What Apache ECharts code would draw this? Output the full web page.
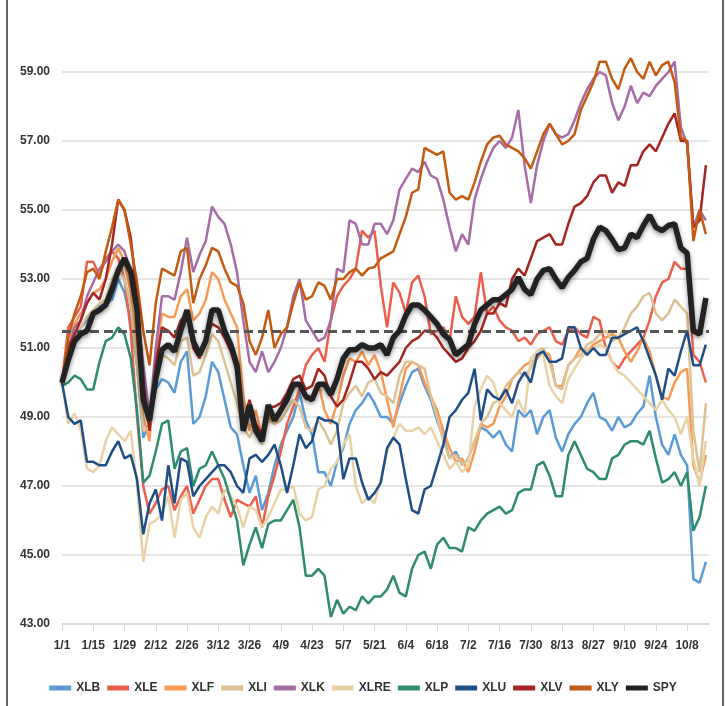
<!DOCTYPE html>
<html lang="en">
<head>
    <meta charset="UTF-8">
    <title>Sector ETFs vs SPY</title>
    <script src="https://cdn.jsdelivr.net/npm/echarts@6/dist/echarts.min.js"></script>
    <style>
        html, body { margin: 0; padding: 0; background: #fff; }
    </style>
</head>
<body>
<div id="main" style="width: 726px;height:706px;"></div>
<script type="text/javascript">
    // categories: every weekday from 1/1 (2018), labels shown every 10th
    var categories = [];
    var d = new Date(2018, 0, 1);
    while (categories.length < 208) {
        if (d.getDay() != 0 && d.getDay() != 6) categories.push((d.getMonth() + 1) + '/' + d.getDate());
        d.setDate(d.getDate() + 1);
    }
    var yTicks = [43, 45, 47, 49, 51, 53, 55, 57, 59];
    var refLevel = 51.5;   // dashed line

    // values read every 2nd trading day (index 0,2,4,...,206)
    var xlb = [50.0, 50.8, 51.2, 51.6, 51.8, 52.0, 52.2, 52.3, 52.4, 53.0,
        52.6, 51.8, 50.5, 48.4, 48.8, 49.8, 50.1, 50.0, 49.7, 50.6,
        50.9, 48.8, 49.0, 49.6, 50.6, 50.3, 49.5, 48.7, 48.5, 47.6,
        46.8, 47.3, 46.3, 46.8, 47.6, 48.2, 48.6, 49.0, 49.7, 48.9,
        48.5, 47.4, 47.4, 47.0, 47.7, 48.1, 48.8, 49.2, 49.4, 49.7,
        49.4, 49.0, 49.0, 48.8, 49.4, 49.9, 50.3, 50.4, 49.9, 49.5,
        48.9, 48.4, 47.8, 48.0, 47.6, 47.8, 48.3, 48.7, 48.6, 48.4,
        48.6, 48.2, 48.0, 49.2, 49.0, 49.2, 48.5, 49.0, 49.2, 48.4,
        48.0, 48.5, 48.8, 49.0, 49.4, 49.7, 49.0, 48.9, 48.6, 49.0,
        48.7, 48.8, 49.1, 49.3, 50.2, 49.0, 48.2, 47.9, 48.5, 47.9,
        47.6, 44.3, 44.2, 44.8];
    var xle = [50.0, 51.6, 51.9, 52.2, 53.5, 53.5, 53.1, 53.6, 53.8, 53.6,
        53.0, 51.5, 49.0, 47.0, 46.2, 46.5, 46.9, 47.0, 46.3, 46.7,
        47.0, 46.2, 46.6, 47.0, 47.2, 47.2, 46.6, 46.1, 46.6, 46.5,
        46.4, 46.7, 45.8, 46.7, 47.3, 48.0, 48.8, 49.3, 49.8, 50.5,
        50.8, 51.0, 50.6, 51.8, 52.5, 52.8, 53.0, 53.3, 54.4, 54.2,
        54.4, 52.8, 51.6, 52.9, 52.6, 52.0, 52.9, 53.1, 52.5, 51.4,
        51.5, 51.6, 51.2, 52.5, 51.9, 51.7, 51.9, 53.2, 52.0, 52.2,
        51.8, 51.6, 51.5, 51.2, 51.3, 51.1, 51.4, 51.5, 51.6, 51.2,
        51.1, 51.5, 51.6, 51.4, 51.3, 51.9, 51.8, 51.0, 50.6, 50.4,
        50.7, 50.9, 51.1, 51.3, 51.8, 52.5, 52.9, 53.0, 53.5, 53.3,
        53.3, 50.8, 50.6, 50.0];
    var xlf = [50.0, 51.3, 51.7, 52.0, 52.3, 52.6, 52.7, 53.0, 53.5, 53.9,
        53.5, 52.6, 51.0, 49.0, 48.3, 50.8, 52.0, 51.9, 51.9, 52.5,
        52.7, 51.8, 52.0, 52.4, 53.2, 53.0, 52.4, 52.0, 51.6, 49.6,
        48.6, 49.2, 48.4, 49.0, 48.8, 49.1, 49.6, 49.8, 50.0, 49.5,
        49.6, 50.0, 49.2, 48.8, 49.4, 50.2, 50.7, 50.6, 50.9, 50.5,
        50.8, 50.3, 49.5, 48.7, 49.6, 50.4, 50.6, 50.5, 50.0, 49.6,
        49.2, 48.6, 48.1, 47.7, 47.8, 47.4, 48.0, 48.8, 48.7, 48.8,
        49.3, 49.6, 50.1, 50.3, 50.5, 50.6, 50.7, 50.9, 50.8, 49.9,
        49.9, 50.5, 50.7, 51.0, 50.9, 51.1, 51.2, 51.3, 51.4, 51.3,
        50.9, 50.6, 50.9, 51.3, 50.9, 50.2, 49.6, 49.5, 50.0, 50.3,
        50.4, 47.6, 47.1, 47.9];
    var xli = [50.0, 50.8, 51.3, 51.6, 51.9, 52.1, 52.3, 52.4, 53.0, 53.3,
        53.0, 52.2, 50.5, 48.6, 48.7, 50.0, 50.8, 50.7, 50.5, 51.2,
        51.3, 50.2, 50.3, 50.8, 51.4, 51.2, 50.6, 50.0, 49.4, 48.7,
        48.4, 48.8, 48.2, 48.9, 48.8, 48.9, 49.2, 49.5, 49.3, 48.7,
        48.6, 48.9, 48.6, 48.2, 48.6, 49.4, 49.7, 49.9, 49.6, 50.0,
        50.1, 49.7, 49.6, 49.4, 50.2, 50.6, 50.6, 50.5, 50.4, 49.6,
        49.0, 48.3, 47.8, 47.9, 47.6, 47.8, 48.3, 48.8, 49.0, 49.4,
        49.5, 49.9, 50.1, 50.3, 50.2, 50.4, 50.9, 51.0, 50.6, 49.9,
        49.8, 50.5, 50.7, 50.8, 51.1, 51.2, 51.4, 51.5, 51.2, 51.3,
        51.6, 52.0, 52.2, 52.5, 52.6, 52.0, 51.8, 52.0, 52.4, 52.2,
        52.0, 48.6, 47.4, 49.4];
    var xlk = [50.0, 51.0, 51.6, 51.8, 52.5, 52.9, 53.3, 53.5, 53.8, 54.0,
        53.8, 53.2, 52.3, 50.5, 49.0, 51.0, 52.5, 52.5, 52.4, 53.2,
        54.2, 53.2, 53.7, 54.1, 55.1, 54.8, 54.6, 54.0, 53.2, 51.8,
        50.6, 50.3, 50.9, 50.3, 50.6, 51.0, 51.6, 52.5, 53.0, 51.8,
        51.5, 51.2, 51.3, 51.8, 53.3, 53.2, 54.7, 54.6, 54.0, 54.0,
        54.6, 54.6, 54.3, 54.7, 55.6, 55.9, 56.2, 56.1, 56.4, 56.0,
        55.9, 55.3, 54.5, 53.8, 54.3, 54.0, 55.3, 55.9, 56.4, 56.8,
        57.0, 56.8, 57.1, 57.9, 56.3, 55.2, 56.3, 57.0, 57.5, 57.2,
        57.1, 57.2, 57.6, 58.1, 58.5, 58.8, 59.0, 58.9, 58.1, 57.6,
        58.0, 58.6, 58.1, 58.4, 58.3, 58.6, 58.8, 59.0, 59.3, 57.4,
        56.9, 54.5, 55.0, 54.7];
    var xlre = [50.0, 48.8, 49.1, 48.6, 47.5, 47.4, 47.6, 48.3, 48.7, 48.5,
        48.3, 48.6, 47.0, 44.8, 45.9, 46.0, 46.2, 46.7, 45.5, 46.6,
        46.8, 45.8, 45.5, 46.1, 46.4, 46.2, 46.9, 46.7, 46.4, 45.8,
        46.4, 46.3, 45.8, 46.1, 46.5, 46.9, 46.9, 47.0, 46.2, 46.0,
        46.1, 46.9, 47.0, 47.5, 47.7, 48.2, 48.5, 47.0, 46.5, 46.7,
        46.5, 47.2, 48.0, 48.4, 48.8, 48.6, 48.6, 48.7, 48.5, 48.7,
        48.3, 47.9, 47.5, 47.7, 47.4, 47.6, 49.3, 49.8, 50.2, 50.0,
        49.4, 49.2, 49.0, 49.5, 49.1, 50.7, 50.9, 50.8, 49.9, 49.6,
        49.4, 50.1, 50.4, 50.7, 50.9, 51.0, 51.1, 51.0, 50.6, 50.3,
        50.2, 50.0, 49.8, 49.6, 49.4, 49.2, 49.5, 49.2, 49.0, 48.5,
        49.0, 47.8, 47.0, 48.3];
    var xlp = [49.9, 50.0, 50.2, 50.1, 49.8, 49.8, 50.6, 51.2, 51.3, 51.6,
        51.4, 50.7, 49.2, 47.1, 47.3, 48.0, 48.8, 48.9, 47.5, 48.0,
        48.1, 47.0, 47.5, 47.6, 48.0, 47.6, 47.2, 46.6, 46.0, 44.7,
        45.3, 45.8, 45.2, 45.9, 46.0, 46.0, 46.3, 46.6, 45.8, 44.4,
        44.4, 44.6, 44.4, 43.2, 43.7, 43.3, 43.5, 43.4, 43.8, 43.6,
        43.8, 43.8, 44.0, 44.4, 43.9, 43.8, 44.6, 45.0, 45.1, 44.6,
        45.3, 45.5, 45.2, 45.2, 45.1, 45.8, 45.7, 46.0, 46.2, 46.3,
        46.4, 46.2, 46.3, 46.8, 46.9, 46.9, 47.6, 47.7, 47.3, 46.7,
        46.7, 47.9, 48.3, 47.9, 47.5, 47.4, 47.2, 47.2, 47.8, 47.9,
        48.2, 48.3, 48.3, 48.2, 48.6, 47.8, 47.1, 47.2, 47.4, 47.0,
        47.4, 45.7, 46.1, 47.0];
    var xlu = [50.0, 49.0, 48.8, 48.9, 47.7, 47.7, 47.6, 47.6, 48.0, 48.3,
        47.8, 47.9, 47.2, 45.6, 46.5, 46.9, 46.0, 47.6, 46.5, 47.8,
        47.7, 46.7, 47.0, 47.2, 47.4, 47.6, 47.6, 47.4, 47.0, 46.8,
        47.8, 47.9, 47.7, 47.9, 48.2, 47.6, 46.8, 47.6, 48.5, 48.1,
        48.3, 49.0, 48.9, 48.9, 48.8, 47.2, 47.8, 47.8, 47.1, 46.6,
        46.8, 47.1, 48.1, 48.4, 48.2, 47.2, 46.3, 46.2, 46.9, 47.0,
        47.6, 48.2, 49.0, 49.2, 49.5, 49.7, 50.4, 48.9, 49.8, 49.6,
        49.5, 49.8, 49.4, 50.0, 50.3, 50.0, 50.8, 50.9, 50.6, 50.6,
        50.7, 51.6, 51.6, 51.0, 50.8, 51.0, 50.8, 50.8, 51.3, 51.3,
        51.4, 51.5, 51.6, 51.2, 50.7, 50.2, 49.5, 50.4, 50.2, 50.9,
        51.5, 50.5, 50.5, 51.1];
    var xlv = [50.0, 51.0, 51.4, 51.8, 52.3, 52.6, 52.4, 53.0, 54.0, 55.3,
        55.0, 54.2, 52.5, 50.0, 48.6, 50.5, 51.6, 51.5, 51.3, 51.8,
        52.0, 51.0, 50.7, 51.3, 51.7, 51.6, 51.3, 50.9, 50.3, 48.8,
        49.5, 48.8, 48.5, 49.3, 49.3, 49.4, 49.7, 50.1, 50.2, 49.8,
        49.9, 50.4, 50.2, 49.6, 49.3, 49.5, 50.0, 50.6, 50.6, 50.4,
        50.1, 50.3, 50.2, 50.4, 50.6, 51.0, 51.2, 51.3, 51.5, 51.5,
        51.3, 51.0, 50.8, 50.6, 50.7, 51.0, 51.2, 51.5, 52.0, 52.0,
        52.3, 52.2, 53.0, 53.3, 53.1, 53.6, 54.1, 54.2, 54.3, 54.0,
        54.0, 54.6, 55.1, 55.2, 55.4, 55.8, 56.0, 56.0, 55.5, 55.8,
        55.7, 56.3, 56.3, 56.7, 56.9, 56.7, 57.1, 57.5, 57.8, 57.0,
        57.0, 54.5, 54.7, 56.3];
    var xly = [50.0, 51.3, 52.0, 52.5, 53.2, 53.3, 53.0, 53.8, 54.5, 55.3,
        55.0, 54.0, 52.9, 51.5, 50.5, 52.3, 53.3, 53.2, 53.1, 53.8,
        53.9, 52.3, 53.0, 53.4, 53.9, 53.8, 53.3, 52.9, 52.8, 52.3,
        51.2, 50.8, 51.3, 52.1, 51.0, 51.4, 51.6, 52.3, 52.9, 52.4,
        52.5, 52.9, 52.8, 52.4, 53.0, 53.0, 53.2, 53.3, 53.1, 53.3,
        53.35, 53.6, 53.7, 53.8, 54.3, 54.8, 55.5, 55.6, 56.8, 56.7,
        56.6, 56.7, 55.5, 55.3, 55.4, 55.3, 55.8, 56.4, 56.9, 57.1,
        57.15, 56.9, 56.8, 56.7, 56.5, 56.2, 56.7, 57.2, 57.5, 57.2,
        56.9, 57.0, 57.2, 57.9, 58.3, 58.7, 59.3, 59.3, 58.8, 58.5,
        59.1, 59.4, 59.0, 58.8, 59.3, 58.9, 59.2, 59.3, 58.7, 57.1,
        57.0, 54.1, 55.0, 54.3];
    var spy = [50.0, 50.65, 51.2, 51.4, 51.5, 52.0, 52.1, 52.25, 52.7, 53.25,
        53.6, 53.2, 52.1, 49.5, 48.9, 50.1, 50.95, 51.1, 50.9, 51.5,
        52.1, 51.2, 50.8, 51.2, 52.1, 52.1, 51.5, 51.1, 50.5, 48.6,
        49.35, 48.6, 48.3, 49.35, 48.9, 49.2, 49.5, 49.95, 49.95, 49.6,
        49.5, 49.95, 49.95, 49.65, 50.1, 50.7, 50.95, 50.95, 51.1, 51.0,
        51.0, 51.1, 50.8, 51.3, 51.5, 51.95, 52.25, 52.25, 52.1, 51.9,
        51.7, 51.4, 51.25, 50.8, 50.95, 51.1, 51.7, 52.1, 52.25, 52.4,
        52.4, 52.55, 52.7, 53.05, 52.7, 52.55, 53.0, 53.25, 53.3, 53.0,
        52.75, 53.05, 53.25, 53.5, 53.6, 54.15, 54.5, 54.4, 54.15, 53.85,
        53.9, 54.3, 54.2, 54.55, 54.85, 54.5, 54.4, 54.55, 54.6, 53.9,
        53.75, 51.5, 51.4, 52.45];

    var names = ['XLB', 'XLE', 'XLF', 'XLI', 'XLK', 'XLRE', 'XLP', 'XLU', 'XLV', 'XLY', 'SPY'];
    var values = [xlb, xle, xlf, xli, xlk, xlre, xlp, xlu, xlv, xly, spy];
    var colors = ['#5b9bd5', '#ec5f4c', '#f79a55', '#dcc294', '#a66ca6', '#e8d3a8',
        '#2e8b6e', '#1f4e86', '#a52522', '#c55a11', '#222222'];

    var font = "'Liberation Sans Narrow', 'Liberation Sans', sans-serif";

    var series = [];
    for (var i = 0; i < names.length; i++) {
        var pts = values[i].map(function (v, k) { return [k * 2, v]; });
        var s = {
            name: names[i],
            type: 'line',
            data: pts,
            symbol: 'none',
            silent: true,
            lineStyle: { width: 2.5, color: colors[i] },
            itemStyle: { color: colors[i] }
        };
        if (names[i] == 'SPY') {
            s.lineStyle = { width: 5.5, color: '#222', shadowBlur: 5, shadowColor: 'rgba(0,0,0,0.45)', shadowOffsetY: 2 };
            s.z = 5;
            s.markLine = {
                silent: true,
                symbol: 'none',
                label: { show: false },
                lineStyle: { type: [9, 5], color: '#555', width: 3 },
                data: [{ yAxis: refLevel }]
            };
        }
        series.push(s);
    }

    var myChart = echarts.init(document.getElementById('main'));
    myChart.setOption({
        animation: false,
        graphic: [{
            type: 'rect',
            shape: { x: 7, y: -5, width: 716, height: 720 },
            style: { fill: 'none', stroke: '#333', lineWidth: 1.5 },
            silent: true
        }],
        grid: { left: 62, right: 17, top: 3, bottom: 82 },
        legend: {
            data: names,
            bottom: 7,
            left: 'center',
            icon: 'rect',
            itemWidth: 22,
            itemHeight: 5,
            itemGap: 7,
            textStyle: { fontFamily: font, fontWeight: 'bold', fontSize: 12, color: '#333' }
        },
        xAxis: {
            type: 'category',
            data: categories,
            boundaryGap: false,
            axisLine: { show: true, lineStyle: { color: '#d9d9d9', width: 1.5 } },
            axisTick: { show: true, interval: 9, length: 7, lineStyle: { color: '#d9d9d9' } },
            axisLabel: { interval: 9, margin: 16, fontFamily: font, fontWeight: 'bold', fontSize: 12, color: '#333' },
            splitLine: { show: false }
        },
        yAxis: {
            type: 'value',
            min: 43,
            max: 61,
            interval: 2,
            axisLine: { show: false },
            axisTick: { show: false },
            axisLabel: {
                showMaxLabel: false,
                margin: 12,
                fontFamily: font, fontWeight: 'bold', fontSize: 12, color: '#333',
                formatter: function (v) { return yTicks.indexOf(v) >= 0 ? v.toFixed(2) : ''; }
            },
            splitLine: { show: true, showMaxLine: false, lineStyle: { color: '#dedede', width: 1.5 } }
        },
        series: series
    });
</script>
</body>
</html>
